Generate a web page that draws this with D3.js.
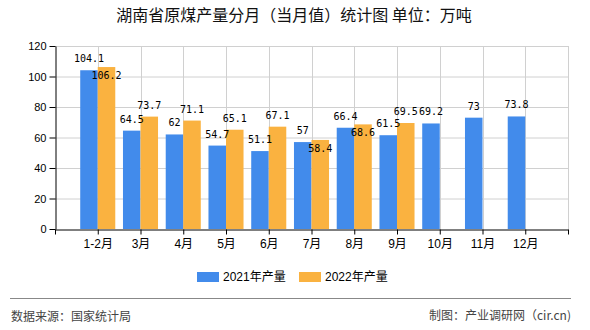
<!DOCTYPE html>
<html><head><meta charset="utf-8">
<script src="https://cdn.jsdelivr.net/npm/d3@7"></script>
<style>
html,body{margin:0;padding:0;background:#fff;}
svg{display:block;}
</style></head>
<body>
<script>
const categories = ["1-2月","3月","4月","5月","6月","7月","8月","9月","10月","11月","12月"];
const values2021 = [104.1,64.5,62,54.7,51.1,57,66.4,61.5,69.2,73,73.8];
const values2022 = [106.2,73.7,71.1,65.1,67.1,58.4,68.6,69.5];
const seriesNames = ["2021年产量","2022年产量"];
const yTicks = [0,20,40,60,80,100,120];
const colors = ["#428BEB","#FAB240"];

(function(){
const W=590,H=330;
const svg=d3.select("body").append("svg").attr("width",W).attr("height",H);
const cjk="'Liberation Sans','Noto Sans CJK SC',sans-serif";
const mono="'DejaVu Sans Mono','Liberation Mono',monospace";

const pl=55,pr=568,pt=46,pb=229;
const x=d3.scaleLinear().domain([-1,categories.length]).range([pl,pr]);
const y=d3.scaleLinear().domain([0,120]).range([pb,pt]);
const step=x(1)-x(0);
const bw=step*0.41;

// title
svg.append("text").attr("x",294).attr("y",21).attr("text-anchor","middle")
 .style("font-family","'Noto Sans CJK SC',sans-serif").style("font-size","16px").attr("fill","#111")
 .text("湖南省原煤产量分月（当月值）统计图 单位：万吨");

// gridlines
const g=svg.append("g");
g.selectAll(".hg").data(yTicks.filter(d=>d>0)).enter().append("line")
 .attr("x1",pl).attr("x2",pr).attr("y1",d=>y(d)+0.5).attr("y2",d=>y(d)+0.5)
 .attr("stroke","#d0d0d0").attr("stroke-width",1);
g.selectAll(".vg").data(d3.range(0,categories.length+1)).enter().append("line")
 .attr("x1",d=>Math.round(x(d))+0.5).attr("x2",d=>Math.round(x(d))+0.5).attr("y1",pt).attr("y2",pb)
 .attr("stroke","#d0d0d0").attr("stroke-width",1);

// bars
const data=[];
categories.forEach((c,i)=>{
  if(values2021[i]!=null) data.push({i,s:0,v:values2021[i]});
  if(values2022[i]!=null) data.push({i,s:1,v:values2022[i]});
});
svg.append("g").selectAll("rect").data(data).enter().append("rect")
 .attr("x",d=>d.s===0?x(d.i)-bw:x(d.i)).attr("width",bw)
 .attr("y",d=>y(d.v)).attr("height",d=>pb-y(d.v))
 .attr("fill",d=>colors[d.s]);

// axes
const ya=d3.axisLeft(y).tickValues(yTicks).tickSize(6).tickSizeOuter(0).tickPadding(3);
const yg=svg.append("g").attr("transform",`translate(${pl+0.5},0)`).call(ya);
yg.selectAll("text").style("font-family","'Liberation Sans',sans-serif").style("font-size","11px").attr("fill","#000");
yg.selectAll("line,path").attr("stroke","#000");

const xa=d3.axisBottom(x).tickValues(d3.range(-1,categories.length+1)).tickSize(5).tickSizeOuter(0).tickPadding(5)
 .tickFormat(d=>categories[d]||"");
const xg=svg.append("g").attr("transform",`translate(0,${pb+0.5})`).call(xa);
xg.selectAll("text").style("font-family",cjk).style("font-size","12px").attr("fill","#000");
xg.selectAll("line,path").attr("stroke","#000");

// labels with simple collision avoidance
const charW=6.0,lh=11;
const placed=[];
data.forEach(d=>{
  const cx=d.s===0?x(d.i)-bw/2:x(d.i)+bw/2;
  const txt=String(d.v);
  const w=txt.length*charW;
  let cy=y(d.v)-12;
  const box={x0:cx-w/2,x1:cx+w/2,y0:cy-lh/2,y1:cy+lh/2};
  const hit=placed.some(b=>b.x0<box.x1&&box.x0<b.x1&&b.y0<box.y1&&box.y0<b.y1);
  if(hit){cy=y(d.v)+8;}
  placed.push({x0:cx-w/2,x1:cx+w/2,y0:cy-lh/2,y1:cy+lh/2});
  d.lx=cx;d.ly=cy;d.txt=txt;
});
svg.append("g").selectAll("text").data(data).enter().append("text")
 .attr("x",d=>d.lx).attr("y",d=>d.ly+4).attr("text-anchor","middle")
 .style("font-family",mono).style("font-size","10px").attr("fill","#000")
 .text(d=>d.txt);

// legend
const lg=svg.append("g");
const lx=[197,299];
seriesNames.forEach((n,k)=>{
  lg.append("rect").attr("x",lx[k]).attr("y",272).attr("width",22).attr("height",10).attr("fill",colors[k]);
  lg.append("text").attr("x",lx[k]+26).attr("y",281).style("font-family",cjk).style("font-size","12px").attr("fill","#000").text(n);
});

// footer
svg.append("line").attr("x1",10).attr("x2",571).attr("y1",298.5).attr("y2",298.5).attr("stroke","#888").attr("stroke-width",1);
svg.append("text").attr("x",11).attr("y",321).style("font-family","'Noto Sans CJK SC',sans-serif").style("font-size","12px").attr("fill","#444").text("数据来源：国家统计局");
svg.append("text").attr("x",571).attr("y",320).attr("text-anchor","end").style("font-family","'Noto Sans CJK SC',sans-serif").style("font-size","12px").attr("fill","#444").text("制图：产业调研网（cir.cn)");
})();
</script>
</body></html>
